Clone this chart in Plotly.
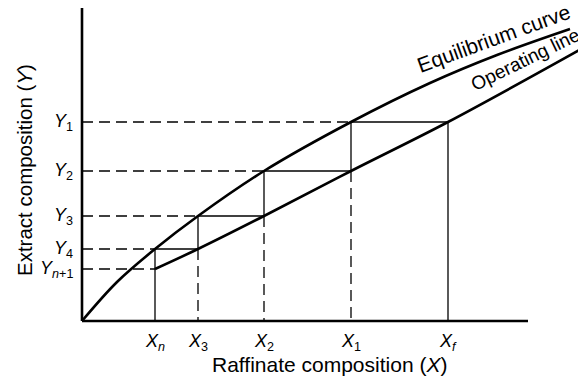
import plotly.graph_objects as go

# Schematic data (arbitrary composition units)
x_eq = [0, 35, 73, 116, 182, 269, 348, 415, 488]
y_eq = [0, 39, 72, 105, 150, 199, 238, 266, 292]

x_op = [73, 116, 182, 269, 366, 501]
y_op = [52, 72, 105, 150, 199, 273]

# stage compositions
x_stage = [366, 269, 182, 116, 73]          # Xf, X1, X2, X3, Xn
y_stage = [199, 150, 105, 72, 52]           # Y1, Y2, Y3, Y4, Yn+1
x_labels = ["<i>X<sub>f</sub></i>", "<i>X</i><sub>1</sub>", "<i>X</i><sub>2</sub>",
            "<i>X</i><sub>3</sub>", "<i>X<sub>n</sub></i>"]
y_labels = ["<i>Y</i><sub>1</sub>", "<i>Y</i><sub>2</sub>", "<i>Y</i><sub>3</sub>",
            "<i>Y</i><sub>4</sub>", "<i>Y<sub>n</sub></i><sub>+1</sub>"]
x_axis_end = 446
y_axis_end = 313

FONT = "Liberation Sans, Arial, Helvetica, sans-serif"
BLACK = "black"
THICK = 2.6
THIN = 1.3
DASH = "11px,6px"

fig = go.Figure()

def seg(xs, ys, width, dash="solid", shape="linear"):
    fig.add_trace(go.Scatter(x=xs, y=ys, mode="lines",
                             line=dict(color=BLACK, width=width, dash=dash, shape=shape),
                             hoverinfo="skip", showlegend=False))

n = len(x_stage)
# dashed horizontal guides from the Y axis to the equilibrium points
for i in range(n - 1):
    seg([0, x_stage[i + 1]], [y_stage[i], y_stage[i]], THIN, DASH)
seg([0, x_stage[-1]], [y_stage[-1], y_stage[-1]], THIN, DASH)

# stage steps (solid)
for i in range(n - 1):
    seg([x_stage[i], x_stage[i + 1]], [y_stage[i], y_stage[i]], THIN)
    seg([x_stage[i + 1], x_stage[i + 1]], [y_stage[i], y_stage[i + 1]], THIN)

# verticals down to X axis
seg([x_stage[0], x_stage[0]], [y_stage[0], 0], THIN)
for i in range(1, n - 1):
    seg([x_stage[i], x_stage[i]], [y_stage[i], 0], THIN, DASH)
seg([x_stage[-1], x_stage[-1]], [y_stage[-1], 0], THIN)

# curves
seg(x_eq, y_eq, THICK, shape="spline")
seg(x_op, y_op, THICK, shape="spline")

# axes
seg([0, x_axis_end], [0, 0], THICK)
seg([0, 0], [0, y_axis_end], THICK)

ann = []
for xv, lab in zip(x_stage, x_labels):
    ann.append(dict(x=xv, y=-21, text=lab, showarrow=False, xanchor="center",
                    yanchor="middle", font=dict(family=FONT, size=18, color=BLACK)))
for yv, lab in zip(y_stage, y_labels):
    ann.append(dict(x=-7, y=yv, text=lab, showarrow=False, xanchor="right",
                    yanchor="middle", font=dict(family=FONT, size=18, color=BLACK)))

ann.append(dict(x=247, y=-43, text="Raffinate composition (<i>X</i>)", showarrow=False,
                xanchor="center", yanchor="middle",
                font=dict(family=FONT, size=21, color=BLACK)))
ann.append(dict(x=-58, y=151, text="Extract composition (<i>Y</i>)", showarrow=False,
                textangle=-90, xanchor="center", yanchor="middle",
                font=dict(family=FONT, size=20.5, color=BLACK)))
ann.append(dict(x=411, y=283, text="Equilibrium curve", showarrow=False,
                textangle=-20, xanchor="center", yanchor="middle",
                font=dict(family=FONT, size=21, color=BLACK)))
ann.append(dict(x=443, y=262, text="Operating line", showarrow=False,
                textangle=-26, xanchor="center", yanchor="middle",
                font=dict(family=FONT, size=19, color=BLACK)))

# page body has an 8px margin: figure occupies page pixels 8..586 x 8..383
fig.update_layout(
    width=578, height=375,
    margin=dict(l=0, r=0, t=0, b=0),
    paper_bgcolor="white", plot_bgcolor="white",
    xaxis=dict(range=[-74, 504], visible=False, fixedrange=True),
    yaxis=dict(range=[-62, 313], visible=False, fixedrange=True),
    annotations=ann,
    showlegend=False,
)

fig.write_html("out.html")
